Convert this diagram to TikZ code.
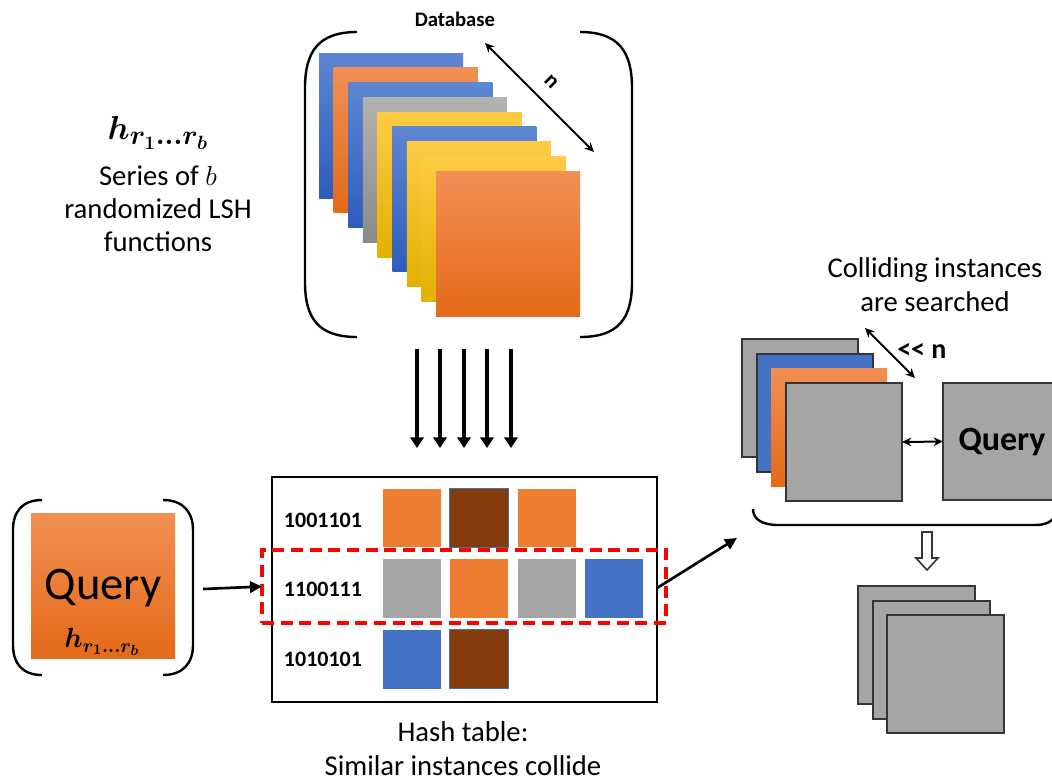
\documentclass[tikz,border=0pt]{standalone}
\usepackage{fontspec}
\setmainfont{Carlito}
\usepackage{bm}
\usetikzlibrary{arrows.meta}
\definecolor{cblue}{HTML}{4472C4}
\definecolor{corange}{HTML}{ED7D31}
\definecolor{cgray}{HTML}{A5A5A5}
\definecolor{cbrown}{HTML}{843C0C}
\definecolor{cedge}{HTML}{41719C}
\definecolor{bluetop}{HTML}{5D86D2}
\definecolor{bluebot}{HTML}{2D5DBD}
\definecolor{orangetop}{HTML}{F28F54}
\definecolor{orangebot}{HTML}{E46A18}
\definecolor{graytop}{HTML}{B2B2B2}
\definecolor{graybot}{HTML}{8A8A8A}
\definecolor{yellowtop}{HTML}{FFCB45}
\definecolor{yellowbot}{HTML}{E2B100}
\definecolor{outl}{HTML}{353535}
\newcommand{\hsym}{$\bm{h_{r_1\ldots r_b}}$}
\begin{document}
\begin{tikzpicture}[x=0.75pt,y=-0.75pt,
  box/.style n args={2}{minimum width=#1*0.75pt, minimum height=#2*0.75pt, inner sep=0pt, outer sep=0pt, anchor=north west},
  gblue/.style={top color=bluetop, bottom color=bluebot},
  gorange/.style={top color=orangetop, bottom color=orangebot},
  ggray/.style={top color=graytop, bottom color=graybot},
  gyellow/.style={top color=yellowtop, bottom color=yellowbot},
  flat/.style={fill=#1},
  lined/.style={draw=outl, line width=1.3pt},
  bracket/.style={line width=1.8pt, black},
  txt/.style={font=\fontsize{21.5}{25.5}\selectfont, inner sep=0pt},
  lbl/.style={font=\fontsize{16.5}{19}\selectfont\bfseries, inner sep=0pt},
  dim/.style={line width=1.5pt, {Stealth[length=7pt,width=6.5pt]}-{Stealth[length=7pt,width=6.5pt]}},
  down/.style={line width=3pt, -{Triangle[length=8pt,width=10pt]}},
  conn/.style={line width=2pt, -{Triangle[length=9pt,width=8.5pt]}}
]
\clip (0,0) rectangle (1052,783);
\path[use as bounding box] (0,0) rectangle (1052,783);

% ---------- Database ----------
\node[font=\fontsize{15.5}{18}\selectfont\bfseries, inner sep=0pt] (dbt) at (455,19) {Database};
\draw[bracket] (357,32) .. controls (318,32) and (305,52) .. (305,88) -- (305,282) .. controls (305,318) and (318,337) .. (357,337);
\draw[bracket] (580,32) .. controls (619,32) and (632,52) .. (632,88) -- (632,282) .. controls (632,318) and (619,337) .. (580,337);
\foreach \c [count=\i from 0] in {blue,orange,blue,gray,yellow,blue,yellow,yellow,orange}{
  \node[box={144}{145}, g\c] (db\i) at ({319+\i*14.65},{53+\i*14.75}) {};
}
\coordinate (na) at (485,43);
\coordinate (nb) at (594,152);
\draw[dim] (na) -- (nb);
\node[font=\fontsize{16.5}{18}\selectfont\bfseries, rotate=-45, inner sep=0pt] (nlbl) at (551,82) {n};

% ---------- left text ----------
\node[inner sep=0pt, font=\fontsize{31}{34}\selectfont] (hfun) at (158,133) {\hsym};
\node[txt, anchor=base] (series) at (158,185) {Series of $b$};
\node[txt, anchor=base] (rand) at (158,218) {randomized LSH};
\node[txt, anchor=base] (func) at (158,251) {functions};

% ---------- Query (left) ----------
\draw[bracket] (42,500) .. controls (22,500) and (13,512) .. (13,530) -- (13,645) .. controls (13,663) and (22,675) .. (42,675);
\draw[bracket] (163,500) .. controls (183,500) and (193,512) .. (193,530) -- (193,645) .. controls (193,663) and (183,675) .. (163,675);
\node[box={144}{145}, gorange] (query) at (31,513) {};
\node[inner sep=0pt, font=\fontsize{35}{40}\selectfont] (qtxt) at (103,588) {Query};
\node[inner sep=0pt, font=\fontsize{22}{24}\selectfont] (qh) at (102,642) {\hsym};

% ---------- down arrows ----------
\foreach \x [count=\k] in {417,440,464,487,511}{
  \coordinate (ds\k) at (\x,349);
  \coordinate (de\k) at (\x,448);
  \draw[down] (ds\k) -- (de\k);
}

% ---------- Hash table ----------
\node[box={385}{225}, draw=black, line width=2.2pt] (table) at (272,477) {};
\node[lbl] (k1) at (323,520) {1001101};
\node[lbl] (k2) at (323,589) {1100111};
\node[lbl] (k3) at (323,659) {1010101};
\node[box={58}{58}, flat=corange] (r1a) at (383,489) {};
\node[box={59}{59}, flat=cbrown, draw=cedge, line width=0.6pt] (r1b) at (449.5,488.5) {};
\node[box={58}{58}, flat=corange] (r1c) at (518,489) {};
\node[box={58}{59}, flat=cgray] (r2a) at (383,559) {};
\node[box={58}{59}, flat=corange] (r2b) at (450,559) {};
\node[box={58}{59}, flat=cgray] (r2c) at (518,559) {};
\node[box={58}{59}, flat=cblue] (r2d) at (585,559) {};
\node[box={58}{59}, flat=cblue] (r3a) at (383,630) {};
\node[box={59}{59}, flat=cbrown, draw=cedge, line width=0.6pt] (r3b) at (449.5,629.5) {};
\node[box={404}{73}, draw=red, line width=2.4pt, dash pattern=on 9pt off 5pt] (hit) at (262,550) {};
\node[txt, anchor=base] (ht1) at (463,741) {Hash table:};
\node[txt, anchor=base] (ht2) at (463,775) {Similar instances collide};

\coordinate (qa) at (203,589);
\draw[conn] (qa) -- (hit.west);
\coordinate (ts) at (657,588);
\coordinate (cs) at (737,538);
\draw[conn] (ts) -- (cs);

% ---------- Colliding instances ----------
\node[txt, anchor=base] (ci1) at (935,277) {Colliding instances};
\node[txt, anchor=base] (ci2) at (935,311) {are searched};
\node[box={116}{118}, flat=cgray, lined] (s1) at (742,339) {};
\node[box={116}{118}, flat=cblue, lined] (s2) at (757,354) {};
\node[box={116}{118}, gorange] (s3) at (771,368) {};
\node[box={116}{118}, flat=cgray, lined] (s4) at (786,383) {};
\coordinate (ma) at (865,328);
\coordinate (mb) at (915,378);
\draw[dim] (ma) -- (mb);
\node[font=\fontsize{21}{24}\selectfont\bfseries, inner sep=0pt, anchor=west] (ll) at (897,351) {{<}{<} n};
\node[box={118}{117}, flat=cgray, lined] (qr) at (943,383) {};
\node[font=\fontsize{25.5}{28}\selectfont\bfseries, inner sep=0pt] (qrt) at (1002,442) {Query};
\draw[dim] (s4.east) -- (qr.west);
\draw[bracket] (753,509) .. controls (753,519) and (762,525) .. (778,525) -- (1036,525) .. controls (1050,525) and (1056,518) .. (1058,508);

% ---------- hollow arrow ----------
\draw[line width=1.2pt, outl, fill=white] (922,532) -- (932,532) -- (932,558) -- (938,558) -- (927,570) -- (916,558) -- (922,558) -- cycle;

% ---------- result stack ----------
\node[box={117}{118}, flat=cgray, lined] (t1) at (858,586) {};
\node[box={117}{118}, flat=cgray, lined] (t2) at (873,601) {};
\node[box={117}{118}, flat=cgray, lined] (t3) at (887,615) {};
\end{tikzpicture}
\end{document}
